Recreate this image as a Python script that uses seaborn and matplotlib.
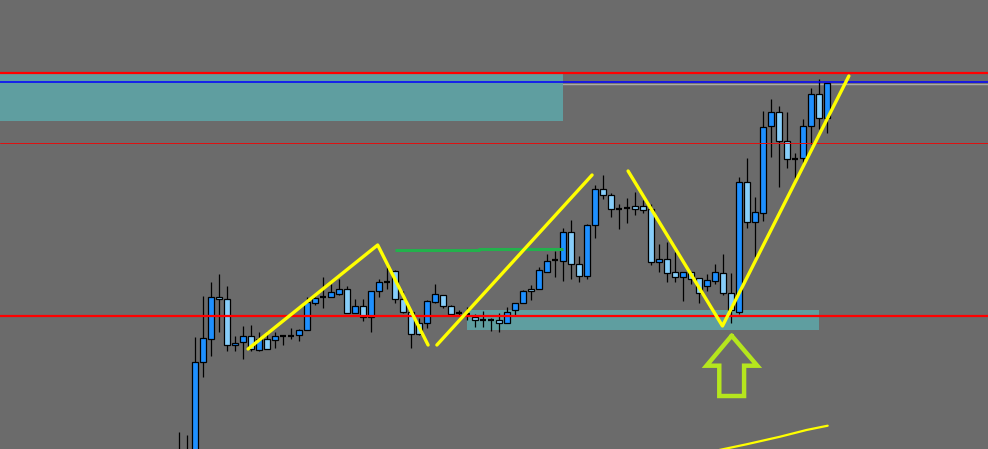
import matplotlib
matplotlib.use("Agg")
import matplotlib.pyplot as plt
import seaborn as sns
import numpy as np
import pandas as pd

# ---- candle data (price units, higher = up) ----
opens = [-25, -20, -21, 87, 110, 152, 150, 104, 107, 113, 99, 110, 109, 113, 113, 114, 119, 146, 152, 152,
         155, 160, 136, 143, 132, 158, 167, 178, 150, 137, 126, 126, 147, 154, 143, 136, 135, 132, 129, 129,
         129, 126, 139, 146, 160, 160, 177, 189, 188, 217, 185, 173, 224, 260, 254, 240, 241, 243, 243, 240,
         187, 190, 177, 172, 177, 171, 163, 168, 176, 156, 137, 267, 227, 236, 323, 337, 308, 290, 291, 323,
         355, 331]
highs = [17, 14, 112, 153, 167, 175, 163, 113, 123, 124, 117, 118, 117, 114, 121, 120, 152, 152, 172, 165,
         170, 163, 150, 150, 158, 170, 182, 179, 158, 137, 131, 149, 165, 154, 144, 139, 142, 135, 138, 131,
         136, 142, 146, 159, 164, 182, 195, 198, 221, 229, 193, 225, 264, 274, 256, 245, 251, 257, 249, 245,
         205, 207, 197, 177, 177, 171, 175, 185, 195, 176, 272, 291, 252, 338, 350, 343, 337, 296, 330, 361,
         370, 366]
lows = [-30, -25, -25, 72, 93, 117, 98, 98, 90, 98, 98, 100, 101, 104, 110, 108, 119, 144, 141, 152,
        154, 136, 136, 128, 117, 152, 160, 146, 136, 101, 114, 121, 146, 141, 134, 133, 129, 122, 122, 118,
        117, 126, 134, 146, 149, 160, 177, 172, 168, 170, 167, 170, 211, 250, 232, 220, 226, 234, 236, 184,
        177, 167, 167, 148, 165, 146, 158, 165, 154, 126, 135, 221, 192, 228, 292, 262, 281, 270, 286, 305,
        320, 316]
closes = [-8, -5, 87, 111, 152, 150, 104, 106, 113, 100, 110, 100, 113, 113, 113, 119, 147, 151, 152, 157,
          160, 136, 143, 132, 158, 167, 167, 150, 137, 115, 115, 148, 155, 143, 135, 136, 135, 129, 129, 129,
          126, 137, 146, 158, 158, 179, 188, 189, 217, 185, 173, 224, 260, 254, 240, 240, 241, 240, 239, 187,
          190, 176, 172, 177, 170, 156, 169, 177, 156, 139, 267, 227, 237, 322, 337, 308, 290, 290, 323, 355,
          331, 366]

# ---- levels / zones / drawings ----
red_levels = [376, 133]
thin_red_level = 306
blue_level = 367
gray_level = 365.5
top_zone = {"x0": -23, "x1": 48, "low": 328, "high": 375}
low_zone = {"x0": 36, "x1": 80, "low": 119, "high": 139}
green_x = [27, 37.5, 37.5, 48]
green_y = [199, 199, 200, 200]
zig1_x = [8.6, 24.8, 31.1]
zig1_y = [100, 204, 104]
zig2_x = [32.2, 51.6]
zig2_y = [104, 274]
zig3_x = [56.1, 67.9, 83.7]
zig3_y = [278, 123, 373]
ma_x = [67.5, 70.9, 75.1, 78.4, 81.05]
ma_y = [-1, 4.7, 12.3, 19, 23.3]
arrow_x = [69.05, 72.25, 70.6, 70.6, 67.5, 67.5, 65.9, 69.05]
arrow_y = [113.3, 83.3, 83.3, 53, 53, 83.3, 83.3, 113.3]

BG = "#6b6b6b"
BULL = "#1e90ff"
BEAR = "#87cefa"

sns.set_style("white", {"axes.facecolor": BG, "figure.facecolor": BG})
fig = plt.figure(figsize=(9.88, 4.49), dpi=100)
ax = fig.add_axes([0, 0, 1, 1])
ax.set_facecolor(BG)
ax.set_xlim(-22.41, 101.09)
ax.set_ylim(0, 449)
ax.axis("off")

df = pd.DataFrame({"open": opens, "high": highs, "low": lows, "close": closes})
df["idx"] = np.arange(len(df))

# zones
ax.axhline(gray_level, color="#a8a8a8", lw=1.0, zorder=1)
for z in (top_zone, low_zone):
    ax.fill_between([z["x0"], z["x1"]], z["low"], z["high"], color="#5f9ea0", lw=0, zorder=2)

# candles
ax.vlines(df["idx"], df["low"], df["high"], color="black", lw=0.9, zorder=3)
body = df[df["open"] != df["close"]]
bcol = np.where(body["close"] > body["open"], BULL, BEAR)
ax.bar(body["idx"], (body["close"] - body["open"]).abs(),
       bottom=np.minimum(body["open"], body["close"]), width=0.72,
       color=bcol, edgecolor="black", linewidth=0.9, zorder=4)
doji = df[df["open"] == df["close"]]
ax.hlines(doji["open"], doji["idx"] - 0.38, doji["idx"] + 0.38, color="black", lw=1.6, zorder=4)

# horizontal lines
for lv in red_levels:
    ax.axhline(lv, color="#ff0000", lw=1.6, zorder=5)
ax.axhline(thin_red_level, color="#e01010", lw=0.7, zorder=5)
ax.axhline(blue_level, color="#0000ff", lw=1.1, zorder=5)

# green line
ax.plot(green_x, green_y, color="#22b14c", lw=2.2, zorder=5, solid_capstyle="butt")

# yellow zigzags
for xs, ys in ((zig1_x, zig1_y), (zig2_x, zig2_y), (zig3_x, zig3_y)):
    sns.lineplot(x=xs, y=ys, ax=ax, color="#ffff00", lw=2.4, sort=False, estimator=None, zorder=6)
sns.lineplot(x=ma_x, y=ma_y, ax=ax, color="#ffff00", lw=1.6, sort=False, estimator=None, zorder=6)

# arrow
ax.plot(arrow_x, arrow_y, color="#b5e61d", lw=3.2, zorder=6, solid_joinstyle="miter")

if ax.get_legend():
    ax.get_legend().remove()
fig.savefig("out.png", dpi=100, facecolor=BG)
